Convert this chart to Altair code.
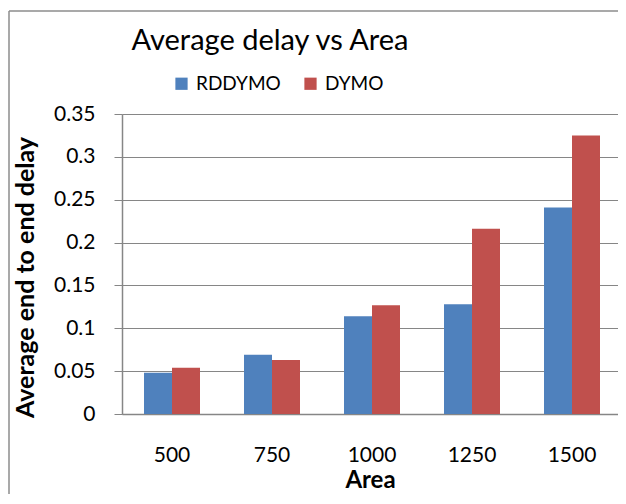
import altair as alt
import pandas as pd

areas = ["500", "750", "1000", "1250", "1500"]
series_names = ["RDDYMO", "DYMO"]
rddymo = [0.048, 0.069, 0.114, 0.128, 0.241]
dymo = [0.054, 0.063, 0.127, 0.216, 0.325]
colors = ["#4F81BD", "#C0504D"]
y_ticks = [0, 0.05, 0.1, 0.15, 0.2, 0.25, 0.3, 0.35]
title_text = "Average delay vs Area"

rows = []
for a, r, d in zip(areas, rddymo, dymo):
    rows.append({"Area": a, "Series": "RDDYMO", "Delay": r})
    rows.append({"Area": a, "Series": "DYMO", "Delay": d})
df = pd.DataFrame(rows)

FONT = "Lato"
W, H = 496, 300

bars = alt.Chart(df).mark_bar().encode(
    x=alt.X("Area:N", sort=areas,
            scale=alt.Scale(paddingInner=0.44, paddingOuter=0.2, align=0.55),
            axis=alt.Axis(title="Area", labelAngle=0, labelFontSize=21, labelFont=FONT,
                          labelColor="#000", labelPadding=30, ticks=False,
                          domainColor="#868686", domainWidth=1.5,
                          titleFontSize=24, titleFont=FONT, titleFontWeight="bold",
                          titleColor="#000", titlePadding=3)),
    xOffset=alt.XOffset("Series:N", sort=series_names, scale=alt.Scale(paddingInner=0, paddingOuter=0)),
    y=alt.Y("Delay:Q", scale=alt.Scale(domain=[0, 0.35], nice=False),
            axis=alt.Axis(title="Average end to end delay", values=y_ticks, format="~g",
                          labelFontSize=21, labelFont=FONT, labelColor="#000",
                          labelPadding=19, tickSize=8, tickColor="#868686",
                          domainColor="#868686", domainWidth=1.5,
                          gridColor="#868686", gridWidth=1.2,
                          titleFontSize=25, titleFont=FONT, titleFontWeight="bold",
                          titleColor="#000", titleX=-89, titleY=163, titleAngle=270,
                          titleBaseline="alphabetic", titleAlign="center")),
    color=alt.Color("Series:N", sort=series_names,
                    scale=alt.Scale(domain=series_names, range=colors),
                    legend=alt.Legend(title=None, orient="none", direction="horizontal",
                                      legendX=50, legendY=-40, symbolType="square",
                                      symbolSize=150, symbolStrokeWidth=0,
                                      labelFontSize=19, labelFont=FONT, labelColor="#000",
                                      labelOffset=5, columnPadding=20)),
)

frame_df = pd.DataFrame({"k": [0]})
frame_left = alt.Chart(frame_df).mark_rule(stroke="#8c8c8c", strokeWidth=1.5).encode(
    x=alt.value(-113), y=alt.value(-103), y2=alt.value(H + 80),
)
frame_top = alt.Chart(frame_df).mark_rule(stroke="#8c8c8c", strokeWidth=1.5).encode(
    x=alt.value(-113), x2=alt.value(W + 8), y=alt.value(-103),
)

title = alt.Chart(pd.DataFrame({"t": [title_text]})).mark_text(
    font=FONT, fontSize=29, color="#000", align="center", baseline="alphabetic"
).encode(
    text="t:N", x=alt.value(148), y=alt.value(-64),
)

chart = alt.layer(frame_left, frame_top, bars, title).properties(
    width=W, height=H,
    autosize=alt.AutoSizeParams(type="none"),
    padding={"left": 114, "top": 106, "right": 0, "bottom": 80},
).configure_view(strokeWidth=0, stroke="transparent").configure(background="white")

chart.save("out.html", embed_options={"renderer": "svg", "actions": False})
